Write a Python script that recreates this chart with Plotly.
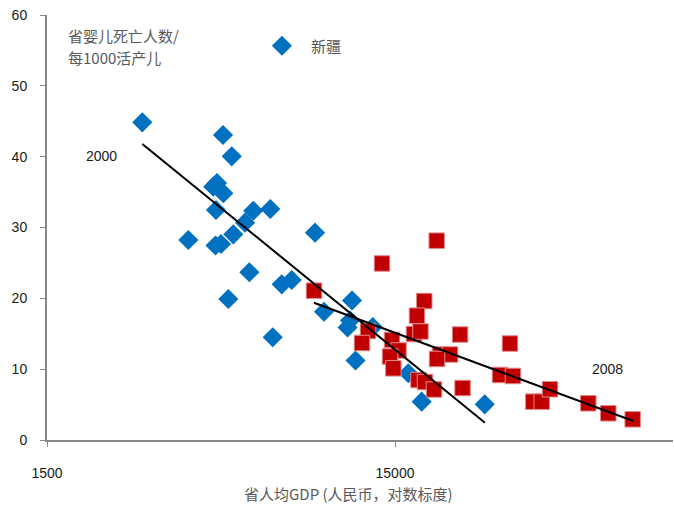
import plotly.graph_objects as go

# 2000 (新疆 legend series): provincial GDP per capita (RMB) and infant mortality per 1000 live births
gdp_2000 = [2818, 4807, 5093, 4507, 4817, 4619, 4588, 5873, 6574, 5560, 5146, 3821,
            4574, 4743, 8836, 5721, 4979, 7088, 7573, 6679, 9378, 11288, 11140, 10958,
            12946, 11552, 16381, 17896, 27161]
imr_2000 = [44.85, 43.06, 40.05, 35.76, 34.83, 36.28, 32.47, 32.37, 32.61, 30.68, 29.04, 28.24,
            27.46, 27.67, 29.27, 23.68, 19.91, 21.98, 22.59, 14.50, 18.11, 19.69, 16.87, 15.88,
            15.95, 11.22, 9.42, 5.41, 5.04]

# 2008
gdp_2008 = [19766, 13764, 8777, 18207, 17348, 17007, 17755, 23071, 12545, 12057, 14708, 15355,
            14515, 14835, 20203, 21591, 19805, 32100, 30052, 32745, 17522, 18292, 19420, 23456,
            37459, 39600, 41830, 53890, 61510, 72290]
imr_2008 = [28.14, 24.92, 21.08, 19.62, 17.55, 14.96, 15.32, 14.89, 15.39, 13.69, 14.12, 12.64,
            11.79, 10.12, 12.07, 12.07, 11.44, 13.62, 9.18, 9.04, 8.47, 8.19, 7.13, 7.34,
            5.41, 5.41, 7.16, 5.18, 3.77, 2.92]

# trend lines (end points)
trend_2000_x = [2818, 27200]
trend_2000_y = [41.8, 2.44]
trend_2008_x = [8776, 72600]
trend_2008_y = [19.38, 2.68]

x_ticks = [1500, 15000]
x_tick_labels = ["1500", "15000"]
y_ticks = [0, 10, 20, 30, 40, 50, 60]

GRAY = "#595959"
AXIS = "#868686"
LATIN = "Liberation Sans, Noto Sans CJK SC, sans-serif"
CJK = "Noto Sans CJK SC, Liberation Sans, sans-serif"

fig = go.Figure()
fig.add_trace(go.Scatter(
    x=gdp_2000, y=imr_2000, mode="markers", name="新疆",
    marker=dict(symbol="diamond", size=15.5, color="#0070C0", line=dict(width=0)),
    showlegend=True))
fig.add_trace(go.Scatter(
    x=gdp_2008, y=imr_2008, mode="markers", name="2008",
    marker=dict(symbol="square", size=15.5, color="#C00000", line=dict(width=1, color="#E08A8A")),
    showlegend=False))
fig.add_trace(go.Scatter(x=trend_2000_x, y=trend_2000_y, mode="lines",
                         line=dict(color="black", width=2), showlegend=False, hoverinfo="skip"))
fig.add_trace(go.Scatter(x=trend_2008_x, y=trend_2008_y, mode="lines",
                         line=dict(color="black", width=2), showlegend=False, hoverinfo="skip"))

fig.update_layout(
    width=674, height=506,
    margin=dict(l=47, r=1, t=15, b=66),
    paper_bgcolor="white", plot_bgcolor="white",
    font=dict(family=LATIN, size=14, color="#1a1a1a"),
    legend=dict(x=0.329, y=0.927, xanchor="left", yanchor="middle",
                bgcolor="rgba(0,0,0,0)", itemwidth=48,
                font=dict(family=CJK, size=15, color=GRAY)),
    xaxis=dict(type="log", range=[3.17609, 4.97494],
               tickvals=x_ticks, ticktext=x_tick_labels,
               ticks="outside", ticklen=5, tickcolor=AXIS, tickwidth=1,
               ticklabelstandoff=14,
               showline=True, linecolor=AXIS, linewidth=2,
               showgrid=False, zeroline=False,
               tickfont=dict(family=LATIN, size=14, color="#1a1a1a")),
    yaxis=dict(range=[0, 60], tickvals=y_ticks,
               ticks="outside", ticklen=5, tickcolor=AXIS, tickwidth=1,
               ticklabelstandoff=10,
               showline=True, linecolor=AXIS, linewidth=2,
               showgrid=False, zeroline=False,
               tickfont=dict(family=LATIN, size=14, color="#1a1a1a")),
    annotations=[
        dict(text="省婴儿死亡人数/", x=66, y=35, xanchor="left", yanchor="middle",
             font=dict(family=CJK, size=15, color=GRAY)),
        dict(text="每1000活产儿", x=66, y=57, xanchor="left", yanchor="middle",
             font=dict(family=CJK, size=15, color=GRAY)),
        dict(text="2000", x=101.5, y=156, xanchor="center", yanchor="middle",
             font=dict(family=LATIN, size=14, color="#1a1a1a")),
        dict(text="2008", x=607, y=369, xanchor="center", yanchor="middle",
             font=dict(family=LATIN, size=14, color="#1a1a1a")),
        dict(text="省人均GDP (人民币，对数标度)", x=348, y=493, xanchor="center", yanchor="middle",
             font=dict(family=CJK, size=15, color=GRAY)),
    ],
)

# convert pixel-positioned annotations into paper coordinates
W, H = 674, 506
L, R, T, B = 47, 1, 15, 66
pw, ph = W - L - R, H - T - B
new_ann = []
for a in fig.layout.annotations:
    a = a.to_plotly_json()
    a["xref"] = "paper"
    a["yref"] = "paper"
    a["showarrow"] = False
    a["x"] = (a["x"] - L) / pw
    a["y"] = 1 - (a["y"] - T) / ph
    new_ann.append(a)
fig.layout.annotations = new_ann

fig.write_html("out.html", config={"displayModeBar": False},
               post_script="document.body.style.margin='0';")
